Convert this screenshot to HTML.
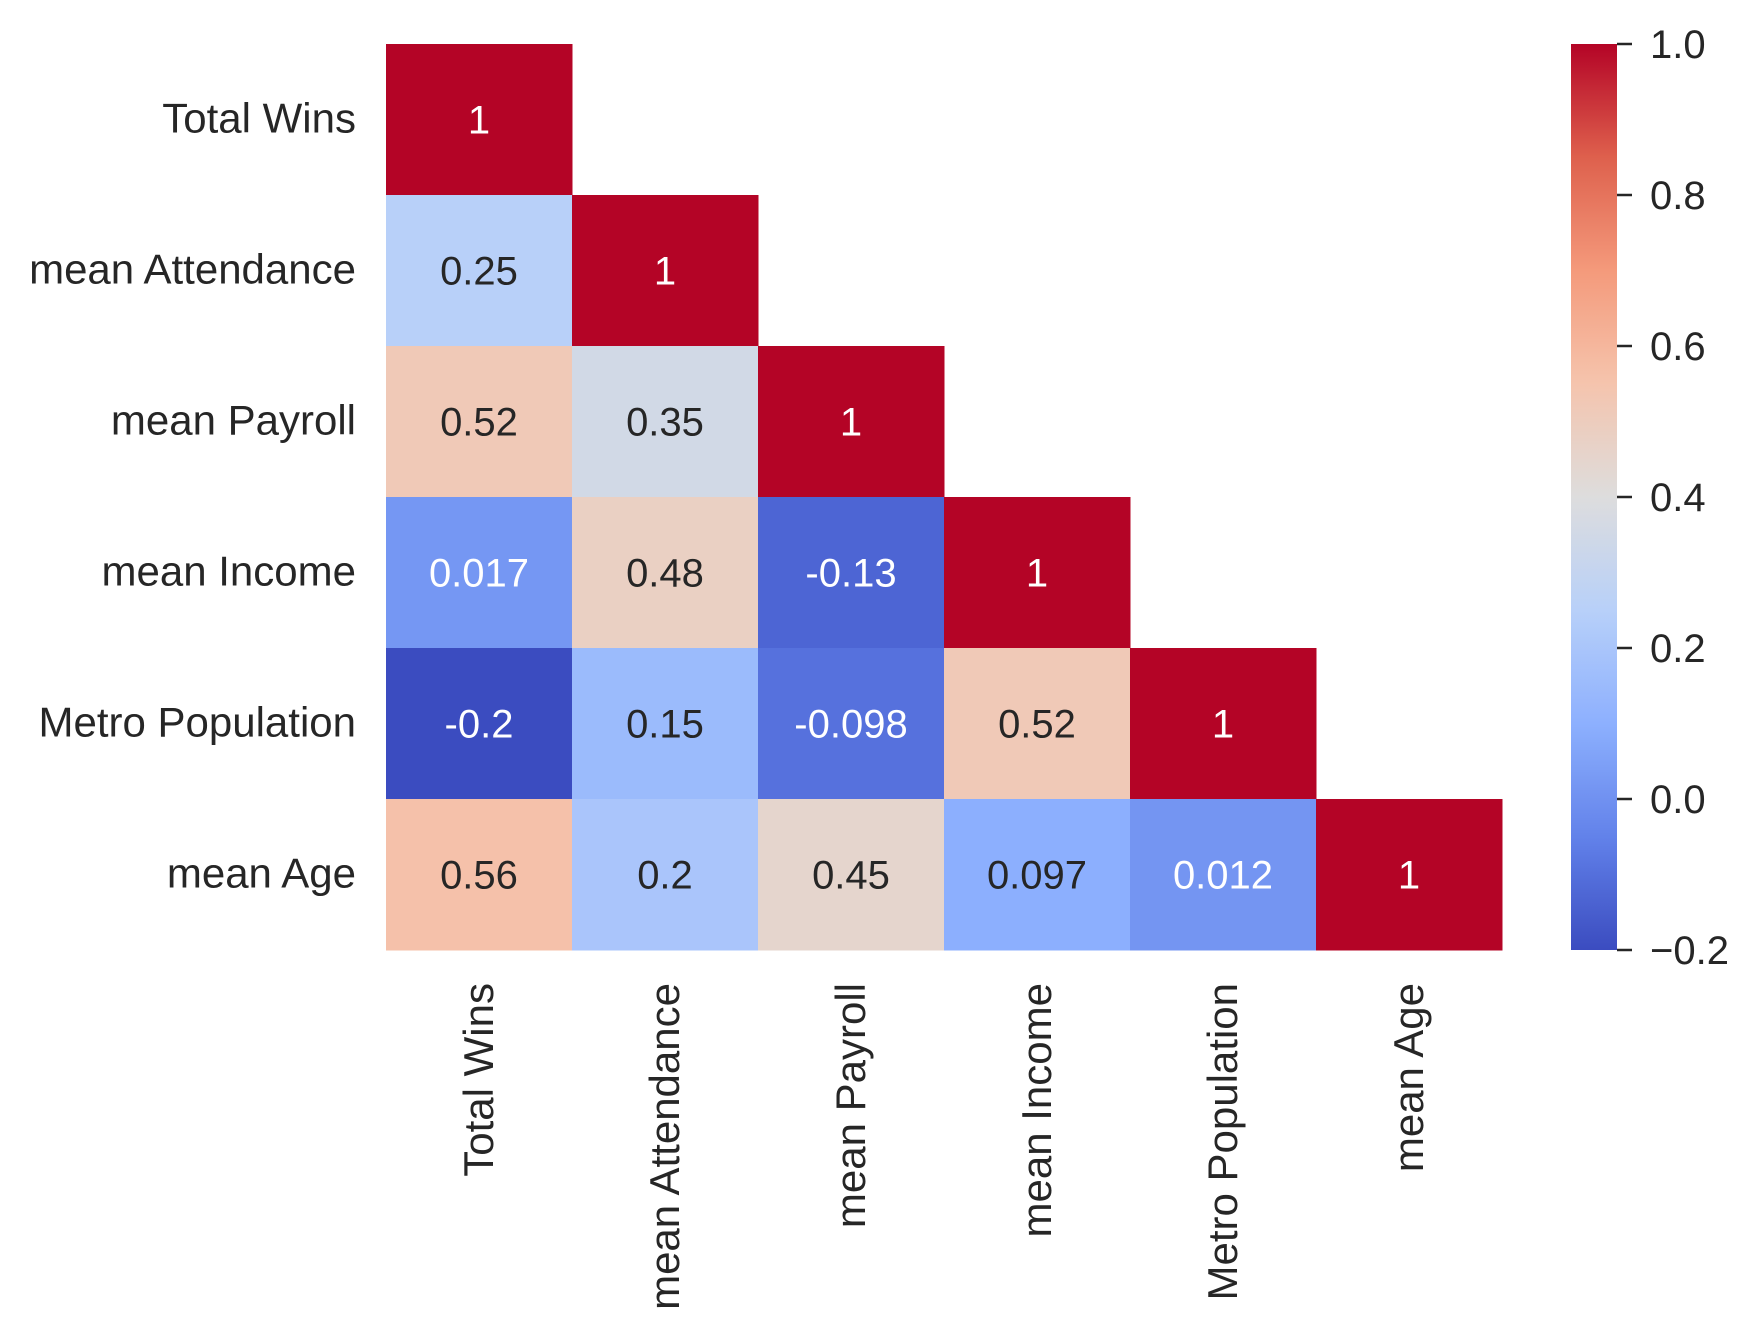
<!DOCTYPE html>
<html><head><meta charset="utf-8"><style>
html,body{margin:0;padding:0;background:#fff;}
svg{display:block;font-family:"Liberation Sans",Arial,sans-serif;}
</style></head><body>
<svg id="chart" width="1758" height="1336" viewBox="0 0 1758 1336" xmlns="http://www.w3.org/2000/svg">
<defs><linearGradient id="cbgrad" x1="0" y1="1" x2="0" y2="0"></linearGradient></defs>
<g id="cells"></g>
<g id="ylabels"></g>
<g id="xlabels"></g>
<g id="cbar"></g>
</svg>
<script>
const labels = ["Total Wins","mean Attendance","mean Payroll","mean Income","Metro Population","mean Age"];
const row0 = [1];
const row1 = [0.25, 1];
const row2 = [0.52, 0.35, 1];
const row3 = [0.017, 0.48, -0.13, 1];
const row4 = [-0.2, 0.15, -0.098, 0.52, 1];
const row5 = [0.56, 0.2, 0.45, 0.097, 0.012, 1];
const cbTicks = [-0.2, 0.0, 0.2, 0.4, 0.6, 0.8, 1.0];
const vmin = -0.2, vmax = 1.0;
const rows = [row0,row1,row2,row3,row4,row5];

const X0 = 386, Y0 = 44, CW = 186, CH = 151;
const NS = "http://www.w3.org/2000/svg";
const cmap = [[59,76,192],[98,130,234],[141,176,254],[184,208,249],[221,221,221],[245,196,173],[244,154,123],[222,96,77],[180,4,38]];
function color(v){
  let t = Math.max(0, Math.min(1, (v - vmin)/(vmax - vmin)));
  let p = t*8, i = Math.min(7, Math.floor(p)), f = p - i;
  const a = cmap[i], b = cmap[i+1];
  return [0,1,2].map(k => Math.round(a[k] + (b[k]-a[k])*f));
}
function lum(c){
  const l = c.map(x => { x/=255; return x <= 0.03928 ? x/12.92 : Math.pow((x+0.055)/1.055, 2.4); });
  return 0.2126*l[0] + 0.7152*l[1] + 0.0722*l[2];
}
function xPos(j){ return X0 + j*CW; }
function yPos(i){ return Y0 + i*CH; }
function mk(tag, attrs){ const e = document.createElementNS(NS, tag); for (const k in attrs) e.setAttribute(k, attrs[k]); return e; }

const cells = document.getElementById('cells');
rows.forEach((r, i) => {
  r.forEach((v, j) => {
    const c = color(v);
    const rect = mk('rect', {x: xPos(j), y: yPos(i), width: CW + 0.5, height: CH + 0.5, fill: `rgb(${c.join(',')})`});
    
    
    cells.appendChild(rect);
    const t = mk('text', {x: xPos(j) + CW/2, y: yPos(i) + CH/2 + 14, 'text-anchor': 'middle', 'font-size': 40, fill: lum(c) > 0.408 ? '#262626' : '#ffffff'});
    t.textContent = String(v);
    
    
    cells.appendChild(t);
  });
});

const yl = document.getElementById('ylabels');
labels.forEach((l, i) => {
  const t = mk('text', {x: 356, y: yPos(i) + CH/2 + 13, 'text-anchor': 'end', 'font-size': 42, fill: '#262626'});
  t.textContent = l;
  
  
  yl.appendChild(t);
});
const xl = document.getElementById('xlabels');
labels.forEach((l, j) => {
  const cx = xPos(j) + CW/2 + 14, cy = 983;
  const t = mk('text', {x: cx, y: cy, 'text-anchor': 'end', 'font-size': 42, fill: '#262626', transform: `rotate(-90 ${cx} ${cy})`});
  t.textContent = l;
  
  
  xl.appendChild(t);
});

// colorbar
const grad = document.getElementById('cbgrad');
for (let k = 0; k <= 40; k++) {
  const v = vmin + (vmax - vmin)*k/40, c = color(v);
  grad.appendChild(mk('stop', {offset: k/40, 'stop-color': `rgb(${c.join(',')})`}));
}
const CBX = 1571, CBW = 46, CBT = 44, CBB = 950;
function cbY(v){ return CBB - (v - vmin)/(vmax - vmin)*(CBB - CBT); }
const cb = document.getElementById('cbar');
const bar = mk('rect', {x: CBX, y: CBT, width: CBW, height: CBB - CBT, fill: 'url(#cbgrad)'});


cb.appendChild(bar);
cbTicks.forEach(v => {
  const y = cbY(v);
  const tk = mk('line', {x1: CBX + CBW, x2: CBX + CBW + 15, y1: y, y2: y, stroke: '#262626', 'stroke-width': 2.5});
  
  
  cb.appendChild(tk);
  const t = mk('text', {x: 1650, y: y + 14, 'font-size': 40, fill: '#262626'});
  t.textContent = v < 0 ? '\u2212' + Math.abs(v).toFixed(1) : v.toFixed(1);
  
  
  cb.appendChild(t);
});
</script>
</body></html>
